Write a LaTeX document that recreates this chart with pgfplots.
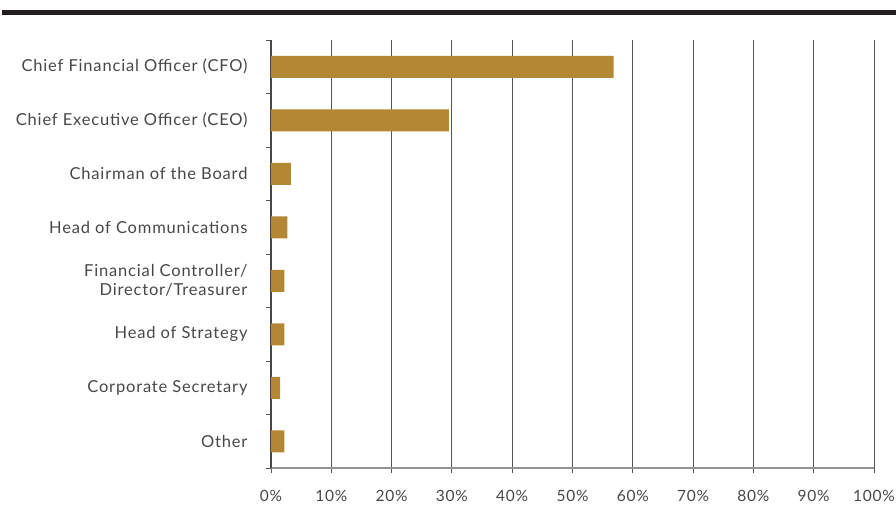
\documentclass[border=0pt]{standalone}
\usepackage{fontspec}
\setmainfont{Lato}[LetterSpace=5]
\usepackage{pgfplots}
\pgfplotsset{compat=1.18}
\definecolor{barbrown}{HTML}{B38733}
\definecolor{labgray}{HTML}{474747}
\definecolor{gridgray}{HTML}{555555}
\definecolor{rulebk}{HTML}{231F20}

\begin{document}
\begin{tikzpicture}[x=1pt,y=1pt]
\path[use as bounding box] (0,0) rectangle (896,531);
% heavy rule on top
\fill[rulebk] (2,516) rectangle (896,521);

\begin{axis}[
    at={(271pt,63pt)}, anchor=south west,
    scale only axis,
    width=603pt, height=428pt,
    xbar,
    bar width=22pt,
    xmin=0, xmax=100,
    ymin=-0.5, ymax=7.5,
    y dir=reverse,
    xtick={0,10,...,100},
    xticklabel={\pgfmathprintnumber{\tick}\%},
    ytick={0,...,7},
    yticklabels={Chief Financial Officer (CFO),Chief Executive Officer (CEO),Chairman of the Board,Head of Communications,{Financial Controller/\\Director/Treasurer},Head of Strategy,Corporate Secretary,Other},
    minor ytick={-0.5,0.5,...,7.5},
    major tick length=5pt,
    minor tick length=5pt,
    tick align=outside,
    xtick pos=bottom, ytick pos=left,
    xmajorgrids=true,
    major grid style={gridgray, line width=1pt},
    major y tick style={draw=none},
    minor y tick style={gridgray, line width=1pt},
    major x tick style={gridgray, line width=1pt},
    axis x line*=bottom,
    axis y line*=left,
    x axis line style={draw=gray!85, line width=1.5pt},
    y axis line style={draw=labgray, line width=1.2pt},
    tick label style={font=\fontsize{15.5}{18}\selectfont, text=labgray},
    yticklabel style={font=\fontsize{16.5}{19}\selectfont, align=right, xshift=-15pt},
    xticklabel style={yshift=-14pt},
    /pgf/number format/assume math mode=true,
]
\addplot[fill=barbrown, draw=none] coordinates {
    (56.8,0) (29.5,1) (3.3,2) (2.7,3) (2.2,4) (2.2,5) (1.5,6) (2.2,7)
};
\end{axis}
\end{tikzpicture}
\end{document}
